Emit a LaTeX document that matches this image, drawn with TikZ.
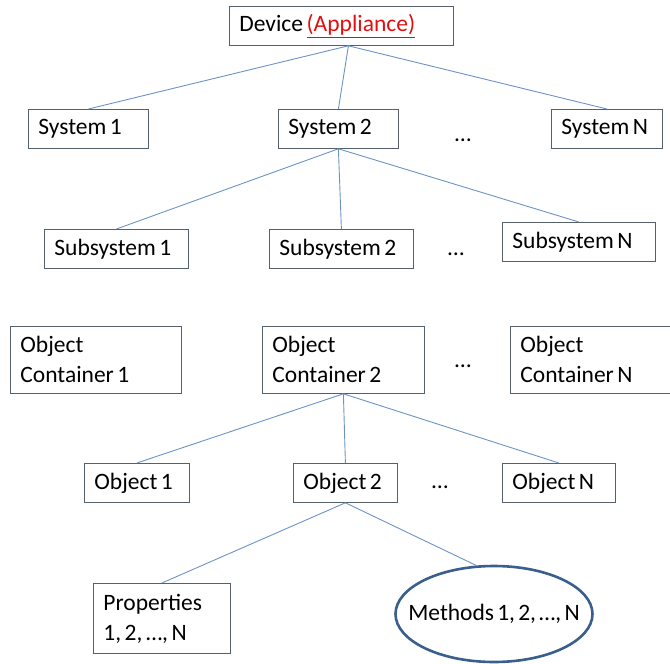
\documentclass[tikz,border=0pt]{standalone}
\usepackage{fontspec}
\setmainfont[WordSpace=0.6]{Carlito}
\usetikzlibrary{shapes.geometric}
\definecolor{boxgray}{HTML}{56606B}
\definecolor{linkblue}{HTML}{6C93C4}
\definecolor{ovalblue}{HTML}{3A5F8C}
\definecolor{appred}{HTML}{E01010}

\begin{document}
\begin{tikzpicture}[x=1pt, y=-1pt,
	box/.style={draw=boxgray, line width=0.8pt, anchor=north west, align=left, inner xsep=10pt, inner ysep=4pt, minimum height=39pt, font=\fontsize{23.5}{30}\selectfont, execute at begin node={\spaceskip=0.15em\relax}},
	link/.style={draw=linkblue, line width=0.9pt},
	gap/.style={font=\fontsize{23.5}{30}\selectfont}]
	\useasboundingbox (0,0) rectangle (670,664);

	\node[box, text width=204pt] (dev) at (229,6) {Device \textcolor{appred}{\underline{(Appliance)}}}; % radice

	\node[box, text width=100pt] (sys1) at (28,109) {System 1};
	\node[box, text width=100pt] (sys2) at (278,109) {System 2};
	\node[gap] (sysdots) at (463,140) {…};
	\node[box, text width=91pt] (sysN) at (551,109) {System N};

	\node[box, text width=124pt] (sub1) at (44,229) {Subsystem 1};
	\node[box, text width=124pt] (sub2) at (269,229) {Subsystem 2};
	\node[gap] (subdots) at (456,254) {…};
	\node[box, text width=133pt] (subN) at (502,222) {Subsystem N};

	\node[box, text width=151pt, minimum height=67pt] (oc1) at (10,326) {Object\\Container 1};
	\node[box, text width=142pt, minimum height=67pt] (oc2) at (262,326) {Object\\Container 2};
	\node[gap] (ocdots) at (463,366) {…};
	\node[box, text width=150pt, minimum height=67pt] (ocN) at (510,326) {Object\\Container N};

	\node[box, text width=85pt] (obj1) at (84,463) {Object 1};
	\node[box, text width=84pt] (obj2) at (293,463) {Object 2};
	\node[gap] (objdots) at (440,487) {…};
	\node[box, text width=93pt] (objN) at (502,463) {Object N};

	\node[box, text width=117pt, minimum height=70pt] (prop) at (93,583) {Properties\\1, 2, …, N};
	\node[ellipse, draw=ovalblue, line width=2.6pt, minimum width=197pt, minimum height=96pt, inner sep=0pt, gap] (meth) at (494,614) {\makebox[0pt]{Methods 1, 2, …, N}}; % metodi

	\draw[link] ([xshift=7pt]dev.south) -- (sys1.north);
	\draw[link] ([xshift=7pt]dev.south) -- (sys2.north);
	\draw[link] ([xshift=7pt]dev.south) -- (sysN.north);
	\draw[link] (sys2.south) -- (sub1.north);
	\draw[link] (sys2.south) -- (sub2.north);
	\draw[link] (sys2.south) -- (subN.north);
	\draw[link] (oc2.south) -- (obj1.north);
	\draw[link] (oc2.south) -- (obj2.north);
	\draw[link] (oc2.south) -- (objN.north);
	\draw[link] (obj2.south) -- (prop.north);
	\draw[link] (obj2.south) -- (meth.110);
\end{tikzpicture}
\end{document}
